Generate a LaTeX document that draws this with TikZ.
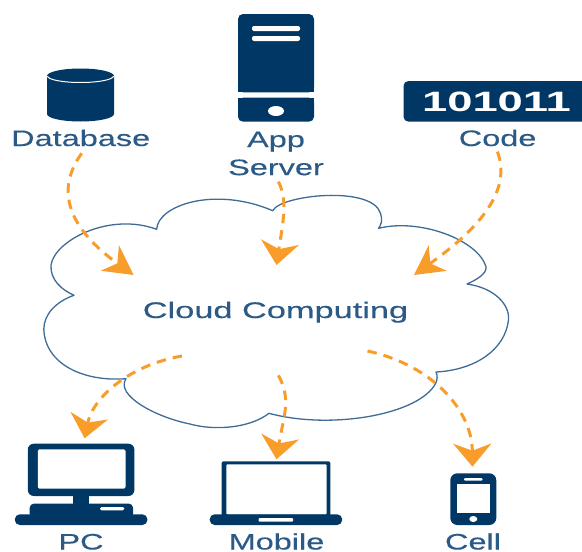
\documentclass[tikz,border=0pt]{standalone}
\usepackage{fontspec}
\usetikzlibrary{arrows.meta}
\newfontfamily\lblfont[FakeStretch=1.45,FakeBold=0.25]{Liberation Sans}
\newfontfamily\cloudfont[FakeStretch=1.52,FakeBold=0.35]{Liberation Sans}
\newfontfamily\codefont[FakeStretch=1.62]{Liberation Sans Bold}
\definecolor{navy}{HTML}{003764}
\definecolor{lbl}{HTML}{2C5A86}
\definecolor{cloudline}{HTML}{3F6C96}
\definecolor{flowc}{HTML}{F89D2A}
\tikzset{
  label text/.style={text=lbl,inner sep=0pt,font=\lblfont\fontsize{22.4}{28}\selectfont},
  icon/.style={fill=navy,draw=none},
  hole/.style={fill=white,draw=none},
  flow/.style={draw=flowc,line width=3pt,dash pattern=on 9.5pt off 7pt},
  flow down/.style={flow,-{Stealth[length=23pt,width=38pt,inset=7pt,flowc]}},
  flow diag/.style={flow,-{Stealth[length=29pt,width=31pt,inset=9pt,flowc]}},
}
\begin{document}
\begin{tikzpicture}[x=1pt,y=-1pt]
\useasboundingbox (0,0) rectangle (582,552);
% cloud
\draw[cloudline,line width=1.3pt,line join=round,fill=white]
  (156.6,229.3) .. controls (158,205) and (215,186) .. (272.8,210.7)
  .. controls (280,195) and (372,185) .. (380.5,213.3)
  .. controls (383,220) and (381,225) .. (378.6,228.3)
  .. controls (420,218) and (478,240) .. (486,266.7)
  .. controls (487,274) and (476,280) .. (467,284)
  .. controls (495,288) and (510,305) .. (508.5,320)
  .. controls (505,350) and (475,370) .. (436,372)
  .. controls (438,376) and (437,380) .. (436,382.7)
  .. controls (420,415) and (330,430) .. (269,413.3)
  .. controls (250,428) and (215,431) .. (190,424)
  .. controls (155,417) and (115,395) .. (126,378.7)
  .. controls (85,382) and (45,365) .. (43.8,329)
  .. controls (44,315) and (55,302) .. (74,295.3)
  .. controls (62,290) and (50,280) .. (51,265)
  .. controls (55,240) and (110,212) .. (156.6,229.3) -- cycle;
\node[text=lbl,inner sep=0pt,anchor=base,font=\cloudfont\fontsize{22.6}{28}\selectfont] (cloud) at (275.5,318) {Cloud Computing};
% database
\fill[icon] (47,76) arc[start angle=180,end angle=360,x radius=33.5,y radius=7.5]
  -- (114,114) arc[start angle=0,end angle=180,x radius=33.5,y radius=7.5] -- cycle;
\draw[white,line width=1pt] (47.5,76) arc[start angle=180,end angle=0,x radius=33,y radius=6.5];
\node[label text,anchor=base] (db) at (80.7,146) {Database};
% server
\fill[icon,rounded corners=5pt] (238,14) rectangle (314,92.3);
\fill[icon] (238,60) rectangle (314,92.3);
\fill[icon,rounded corners=5pt] (238,97.7) rectangle (314,121.7);
\fill[icon] (238,97.7) rectangle (314,108);
\fill[hole,rounded corners=2pt] (252,26) rectangle (300,31);
\fill[hole,rounded corners=2pt] (252,36) rectangle (300,41);
\fill[hole] (276,111) ellipse[x radius=8,y radius=5];
\node[label text,align=center] (app) at (276,153.5) {App\\Server};
% code
\fill[icon,rounded corners=5pt] (403.5,81) rectangle (590,121.7);
\node[text=white,inner sep=0pt,anchor=base,font=\codefont\fontsize{28}{30}\selectfont] (bin) at (496.5,111.7) {101011};
\node[label text,anchor=base] (code) at (497.6,146) {Code};
% PC
\fill[icon,rounded corners=6pt] (27.8,443.7) rectangle (134.4,496);
\fill[hole,rounded corners=1.5pt] (37.9,449.3) rectangle (125.5,488.7);
\fill[icon] (73,495) rectangle (89,505);
\fill[icon,rounded corners=4pt] (29.7,503.7) rectangle (133,518);
\fill[icon,rounded corners=5pt] (14.8,514.3) rectangle (147.4,525);
\fill[hole,rounded corners=1.5pt] (100,507) rectangle (124.3,510.3);
\node[label text,anchor=base] (pc) at (81,549.5) {PC};
% laptop
\fill[icon,rounded corners=2pt] (221.6,461.3) rectangle (330.4,518);
\fill[hole,rounded corners=1pt] (226.4,464.3) rectangle (326.6,514.5);
\fill[icon,rounded corners=5pt] (209.7,514.3) rectangle (342.2,525);
\fill[hole,rounded corners=1pt] (258.7,518) rectangle (293.2,521.7);
\node[label text,anchor=base] (mobile) at (276.5,549.5) {Mobile};
% phone
\fill[icon,rounded corners=7pt] (450.3,473.3) rectangle (496.3,525);
\fill[hole] (456.6,484.3) rectangle (490,513.3);
\fill[hole,rounded corners=1pt] (464,478) rectangle (482.5,480.5);
\fill[hole] (473.3,519) ellipse[x radius=4,y radius=3];
\node[label text,anchor=base] (cell) at (473,549.5) {Cell};
% connector ends
\coordinate (dbOut) at (81.7,153.3);
\coordinate (appOut) at (278.4,181.7);
\coordinate (codeOut) at (497.4,151.7);
\coordinate (cloudA) at (133.6,275);
\coordinate (cloudB) at (276.5,265);
\coordinate (cloudC) at (414,275);
\coordinate (cloudD) at (182,356);
\coordinate (cloudE) at (278.4,375.3);
\coordinate (cloudF) at (367.5,351);
\coordinate (pcIn) at (84.6,438.3);
\coordinate (mobileIn) at (276.5,459.3);
\coordinate (cellIn) at (472.5,466.7);
% connectors
\draw[flow diag] (dbOut) .. controls (55,190) and (68,228) .. (cloudA);
\draw[flow down] (appOut) .. controls (288,200) and (283,222) .. (cloudB);
\draw[flow diag] (codeOut) .. controls (512,190) and (480,228) .. (cloudC);
\draw[flow down] (cloudD) .. controls (130,365) and (93,397) .. (pcIn);
\draw[flow down] (cloudE) .. controls (292,400) and (283,418) .. (mobileIn);
\draw[flow down] (cloudF) .. controls (432,365) and (472,410) .. (cellIn);
\end{tikzpicture}
\end{document}
